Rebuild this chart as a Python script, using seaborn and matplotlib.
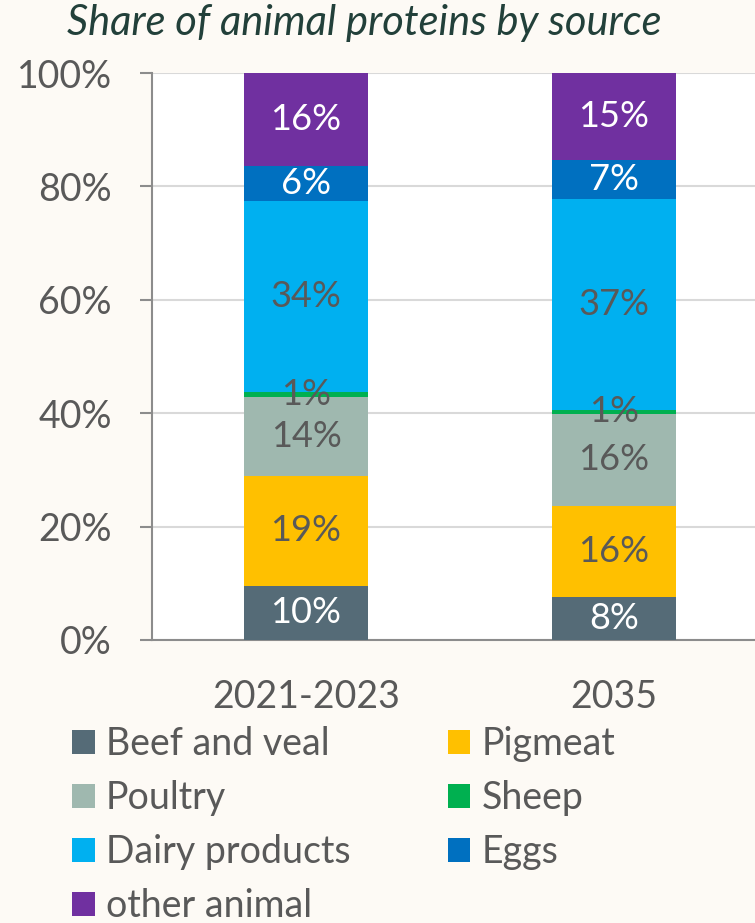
import numpy as np
import pandas as pd
import matplotlib.pyplot as plt
from matplotlib.patches import Patch
from matplotlib.ticker import PercentFormatter
import seaborn as sns

# data (shares in %)
periods = ['2021-2023', '2035']
sources = ['Beef and veal', 'Pigmeat', 'Poultry', 'Sheep', 'Dairy products', 'Eggs', 'other animal']
beef = [9.6, 7.6]
pigmeat = [19.3, 16.1]
poultry = [13.9, 16.2]
sheep = [1.0, 0.7]
dairy = [33.6, 37.2]
eggs = [6.2, 6.8]
other = [16.4, 15.4]

colors = ['#556B77', '#FFC000', '#9FB8AF', '#00B050', '#00B0F0', '#0070C0', '#7030A0']
txt_colors = ['white', '#595959', '#595959', '#595959', '#595959', 'white', 'white']

sns.set_style('white')
plt.rcParams['font.family'] = ['Lato', 'DejaVu Sans']

bg = '#FDFAF5'
fig = plt.figure(figsize=(7.55, 9.23), dpi=100, facecolor=bg)
ax = fig.add_axes([152/755, 1-640/923, (768-152)/755, (640-73)/923])
ax.set_facecolor('white')

df = pd.DataFrame({'period': periods, 'Beef and veal': beef, 'Pigmeat': pigmeat,
                   'Poultry': poultry, 'Sheep': sheep, 'Dairy products': dairy,
                   'Eggs': eggs, 'other animal': other})

bottom = np.zeros(len(periods))
for src, col, tc in zip(sources, colors, txt_colors):
    sns.barplot(data=df, x='period', y=src, color=col, bottom=bottom, width=0.4,
                errorbar=None, ax=ax, saturation=1, linewidth=0, zorder=3)
    cont = ax.containers[-1]
    ax.bar_label(cont, labels=[f'{v:.0f}%' for v in df[src]], label_type='center',
                 color=tc, fontsize=26, zorder=4)
    bottom = bottom + df[src].values

ax.set_xlim(-0.5, 1.5)
ax.set_ylim(0, 100)
ax.set_yticks(np.arange(0, 101, 20))
ax.yaxis.set_major_formatter(PercentFormatter(decimals=0))
ax.grid(axis='y', color='#D9D9D9', lw=1.5, zorder=0)
ax.set_axisbelow(True)
ax.set_xlabel('')
ax.set_ylabel('')
for s in ['top', 'right']:
    ax.spines[s].set_visible(False)
for s in ['left', 'bottom']:
    ax.spines[s].set_color('#8C8C8C')
    ax.spines[s].set_linewidth(1.5)

ax.set_xticks([-0.5, 0.5, 1.5], minor=True)
ax.tick_params(axis='x', which='major', length=0, pad=28, labelsize=27, labelcolor='#595959')
ax.tick_params(axis='x', which='minor', length=11, width=1.5, color='#8C8C8C', direction='out')
ax.tick_params(axis='y', which='major', length=9, width=1.5, color='#8C8C8C', direction='out',
               left=True, pad=20, labelsize=27, labelcolor='#595959')

fig.text(0.483, 1-23/923, 'Share of animal proteins by source', ha='center', va='center',
         fontsize=30, style='italic', color='#22403A')

handles = [Patch(facecolor=c, edgecolor='none') for c in colors]
order = [0, 2, 4, 6, 1, 3, 5]
fig.legend([handles[i] for i in order], [sources[i] for i in order],
           ncol=2, loc='upper left', bbox_to_anchor=(72/755, 1-726/923),
           frameon=False, fontsize=27, labelcolor='#595959',
           handlelength=0.6, handleheight=0.6, handletextpad=0.3,
           labelspacing=0.48, columnspacing=2.6, borderpad=0, borderaxespad=0)

fig.savefig('out.png', dpi=100, facecolor=bg)
